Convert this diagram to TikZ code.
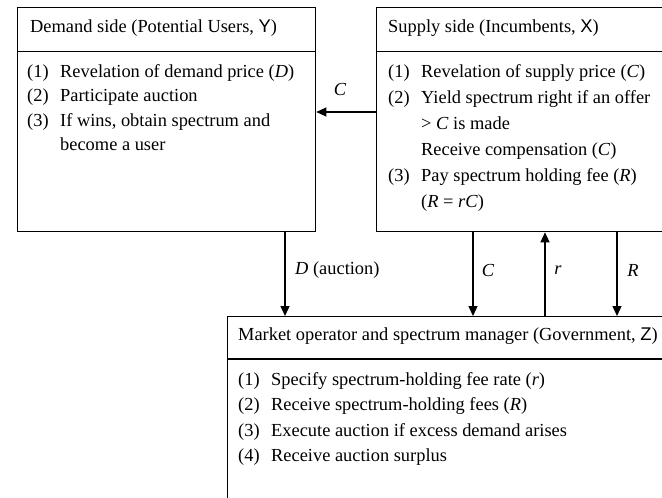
\documentclass[tikz,border=0pt]{standalone}
\usepackage{fontspec}
\setmainfont{Liberation Serif}
\newfontfamily\lettersans{Liberation Sans}
\usetikzlibrary{arrows.meta}

% numbered item: fixed-width label column
\newcommand\itm[1]{\makebox[33pt][l]{#1}}
\newcommand\listfont[1]{\fontsize{18.4}{#1}\selectfont}

\begin{document}
\begin{tikzpicture}[x=1pt,y=1pt,
  box/.style={draw, line width=1.3pt, rectangle, inner sep=0pt, anchor=north west},
  rule/.style={line width=1.3pt},
  flow/.style={line width=1.3pt, -{Triangle[length=10pt,width=9pt]}},
  head/.style={anchor=west, inner sep=0pt, font=\listfont{25}},
  itemlist/.style={anchor=north west, inner sep=0pt},
  lab/.style={inner sep=0pt, font=\listfont{25}},
]
\useasboundingbox (0,0) rectangle (662,-498);
\clip (0,0) rectangle (662,-498);

% the three parties
\node[box, minimum width=298pt, minimum height=224pt] (dem) at (17,-7) {};
\node[box, minimum width=340pt, minimum height=224pt] (sup) at (376,-7) {};
\node[box, minimum width=480pt, minimum height=230pt] (gov) at (227,-316) {};

% header rules
\draw[rule] ([yshift=-44.5pt]dem.north west) -- ([yshift=-44.5pt]dem.north east);
\draw[rule] ([yshift=-44.5pt]sup.north west) -- ([yshift=-44.5pt]sup.north east);
\draw[rule] ([yshift=-43pt]gov.north west) -- ([yshift=-43pt]gov.north east);

% headers
\node[head] (demhead) at (30,-28) {Demand side (Potential Users, {\lettersans Y})};
\node[head] (suphead) at (388,-28) {Supply side (Incumbents, {\lettersans X})};
\node[head] (govhead) at (238,-336) {Market operator and spectrum manager (Government, {\lettersans Z})};

% item lists
\node[itemlist] (demlist) at (27,-60) {\listfont{24.5}%
  \begin{tabular}{@{}l@{}}
  \itm{(1)}Revelation of demand price (\textit{D})\\
  \itm{(2)}Participate auction\\
  \itm{(3)}If wins, obtain spectrum and\\
  \itm{}become a user
  \end{tabular}};
\node[itemlist] (suplist) at (388,-59) {\listfont{26}%
  \begin{tabular}{@{}l@{}}
  \itm{(1)}Revelation of supply price (\textit{C})\\
  \itm{(2)}Yield spectrum right if an offer\\
  \itm{}> \textit{C} is made\\
  \itm{}Receive compensation (\textit{C})\\
  \itm{(3)}Pay spectrum holding fee (\textit{R})\\
  \itm{}(\textit{R} = \textit{rC})
  \end{tabular}};
\node[itemlist] (govlist) at (238,-367) {\listfont{25.5}%
  \begin{tabular}{@{}l@{}}
  \itm{(1)}Specify spectrum-holding fee rate (\textit{r})\\
  \itm{(2)}Receive spectrum-holding fees (\textit{R})\\
  \itm{(3)}Execute auction if excess demand arises\\
  \itm{(4)}Receive auction surplus
  \end{tabular}};

% flows between the parties
\draw[flow] (sup.west |- 0,-112) -- (dem.east |- 0,-112);
\draw[flow] (dem.south -| 285,0) -- (gov.north -| 285,0);
\draw[flow] (sup.south -| 473,0) -- (gov.north -| 473,0);
\draw[flow] (gov.north -| 545,0) -- (sup.south -| 545,0);
\draw[flow] (sup.south -| 617,0) -- (gov.north -| 617,0);

% flow labels
\node[lab] (labC1) at (340,-89) {\textit{C}};
\node[lab, anchor=west] (labD) at (295,-270) {\textit{D} (auction)};
\node[lab] (labC2) at (488,-270) {\textit{C}};
\node[lab] (labr) at (558,-270) {\textit{r}};
\node[lab] (labR) at (633,-270) {\textit{R}};
\end{tikzpicture}
\end{document}
